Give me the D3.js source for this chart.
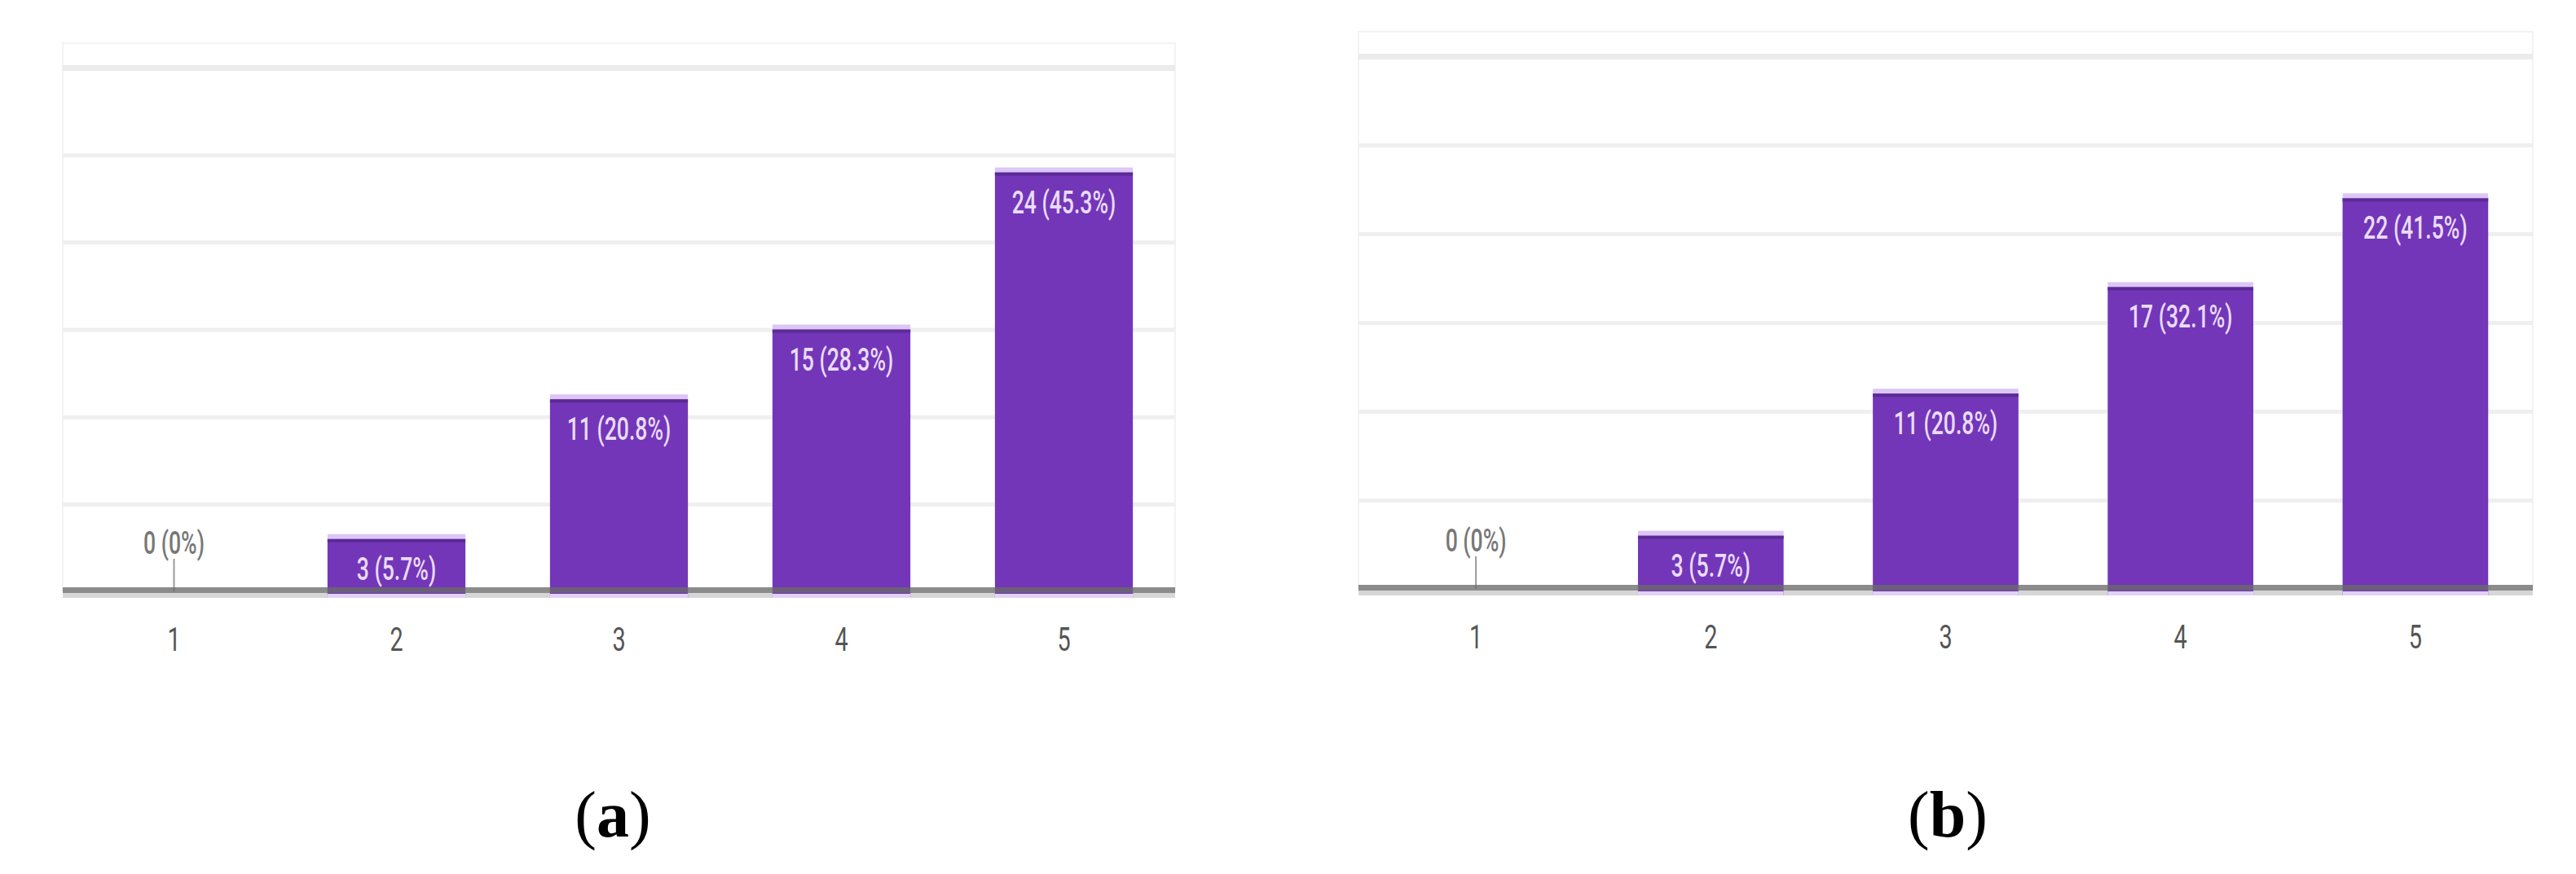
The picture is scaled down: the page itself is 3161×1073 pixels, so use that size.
<!DOCTYPE html>
<html>
<head>
<meta charset="utf-8">
<script src="https://cdn.jsdelivr.net/npm/d3@7"></script>
<style>
  html, body { margin: 0; padding: 0; background: #ffffff; }
  svg { display: block; }
</style>
</head>
<body>
<script>
// ---------- data ----------
const categories = ["1", "2", "3", "4", "5"];
const valuesA = [0, 3, 11, 15, 24];
const valuesB = [0, 3, 11, 17, 22];
const labelsA = ["0 (0%)", "3 (5.7%)", "11 (20.8%)", "15 (28.3%)", "24 (45.3%)"];
const labelsB = ["0 (0%)", "3 (5.7%)", "11 (20.8%)", "17 (32.1%)", "22 (41.5%)"];
const yTicks = [0, 5, 10, 15, 20, 25, 30];
const captions = ["(a)", "(b)"];

// ---------- layout ----------
const W = 3161, H = 1073;
const panels = [
  { values: valuesA, labels: labelsA, caption: captions[0],
    left: 77, right: 1442, top: 83, bottom: 726, capX: 752, capY: 1027 },
  { values: valuesB, labels: labelsB, caption: captions[1],
    left: 1667, right: 3108, top: 69, bottom: 723, capX: 2390, capY: 1027 }
];

const svg = d3.select("body").append("svg")
  .attr("width", W).attr("height", H);

panels.forEach(p => {
  const g = svg.append("g");
  const x = d3.scaleBand().domain(categories).range([p.left, p.right])
    .paddingInner(0.38).paddingOuter(0.19);
  const y = d3.scaleLinear().domain([0, 30]).range([p.bottom, p.top]);

  // faint frame (top + sides)
  g.append("path")
    .attr("d", `M${p.left},${y(0)} V${p.top - 30} H${p.right} V${y(0)}`)
    .attr("fill", "none").attr("stroke", "#f3f3f3").attr("stroke-width", 2);

  // gridlines
  const grid = d3.axisLeft(y).tickValues(yTicks.slice(1))
    .tickSize(-(p.right - p.left)).tickFormat("");
  const gg = g.append("g").attr("transform", `translate(${p.left},0)`).call(grid);
  gg.select(".domain").remove();
  gg.selectAll(".tick line").attr("stroke", "#efefef").attr("stroke-width", 5);
  gg.selectAll(".tick").filter(d => d === 30).select("line")
    .attr("stroke", "#ebebeb").attr("stroke-width", 7);

  // light grey band below baseline
  g.append("rect")
    .attr("x", p.left).attr("y", y(0) + 2)
    .attr("width", p.right - p.left).attr("height", 6)
    .attr("fill", "#d6d6d6");

  // bars
  const bars = g.selectAll(".bar").data(categories.map((c, i) => ({ c, v: p.values[i], l: p.labels[i] })))
    .enter().append("g");

  bars.filter(d => d.v > 0).append("rect")
    .attr("x", d => x(d.c)).attr("width", x.bandwidth())
    .attr("y", d => y(d.v)).attr("height", d => y(0) - y(d.v) + 8)
    .attr("fill", "#7336b8");
  // lavender cap
  bars.filter(d => d.v > 0).append("rect")
    .attr("x", d => x(d.c)).attr("width", x.bandwidth())
    .attr("y", d => y(d.v) - 6).attr("height", 6)
    .attr("fill", "#dcc6f6");
  // dark strip under cap
  bars.filter(d => d.v > 0).append("rect")
    .attr("x", d => x(d.c)).attr("width", x.bandwidth())
    .attr("y", d => y(d.v)).attr("height", 4)
    .attr("fill", "#5b2a96");
  // lavender bottom edge
  bars.filter(d => d.v > 0).append("rect")
    .attr("x", d => x(d.c)).attr("width", x.bandwidth())
    .attr("y", y(0) + 3).attr("height", 5)
    .attr("fill", "#e2d2f7");

  // baseline (semi-transparent dark grey)
  g.append("rect")
    .attr("x", p.left).attr("y", y(0) - 5)
    .attr("width", p.right - p.left).attr("height", 7)
    .attr("fill", "#6a6a6a").attr("opacity", 0.78);

  // zero-value marker line
  bars.filter(d => d.v === 0).append("line")
    .attr("x1", d => x(d.c) + x.bandwidth() / 2).attr("x2", d => x(d.c) + x.bandwidth() / 2)
    .attr("y1", y(0) - 40).attr("y2", y(0))
    .attr("stroke", "#9a9a9a").attr("stroke-width", 2);

  // value labels
  bars.append("text")
    .attr("transform", d => {
      const cx = x(d.c) + x.bandwidth() / 2;
      const ty = d.v > 0 ? y(d.v) + 50 : y(0) - 46;
      return `translate(${cx},${ty}) scale(0.7,1)`;
    })
    .attr("text-anchor", "middle")
    .attr("font-family", "Roboto, 'Liberation Sans', sans-serif")
    .attr("font-size", 38)
    .attr("font-weight", 500)
    .attr("fill", d => d.v > 0 ? "#e9dcfa" : "#777777")
    .text(d => d.l);

  // x axis tick labels
  const xa = g.append("g").attr("transform", `translate(0,${y(0)})`)
    .call(d3.axisBottom(x).tickSize(0).tickPadding(0));
  xa.select(".domain").remove();
  xa.selectAll(".tick text")
    .attr("y", 0).attr("dy", 0)
    .attr("transform", "translate(0,73) scale(0.72,1)")
    .attr("font-family", "Roboto, 'Liberation Sans', sans-serif")
    .attr("font-size", 40)
    .attr("fill", "#555555");

  // caption
  const cap = svg.append("text")
    .attr("x", p.capX).attr("y", p.capY)
    .attr("text-anchor", "middle")
    .attr("font-family", "'Liberation Serif', 'Times New Roman', serif")
    .attr("font-size", 80)
    .attr("fill", "#000");
  const m = p.caption.match(/^\((.*)\)$/);
  cap.append("tspan").text("(");
  cap.append("tspan").attr("font-weight", "bold").text(m ? m[1] : p.caption);
  cap.append("tspan").text(")");
});
</script>
</body>
</html>
